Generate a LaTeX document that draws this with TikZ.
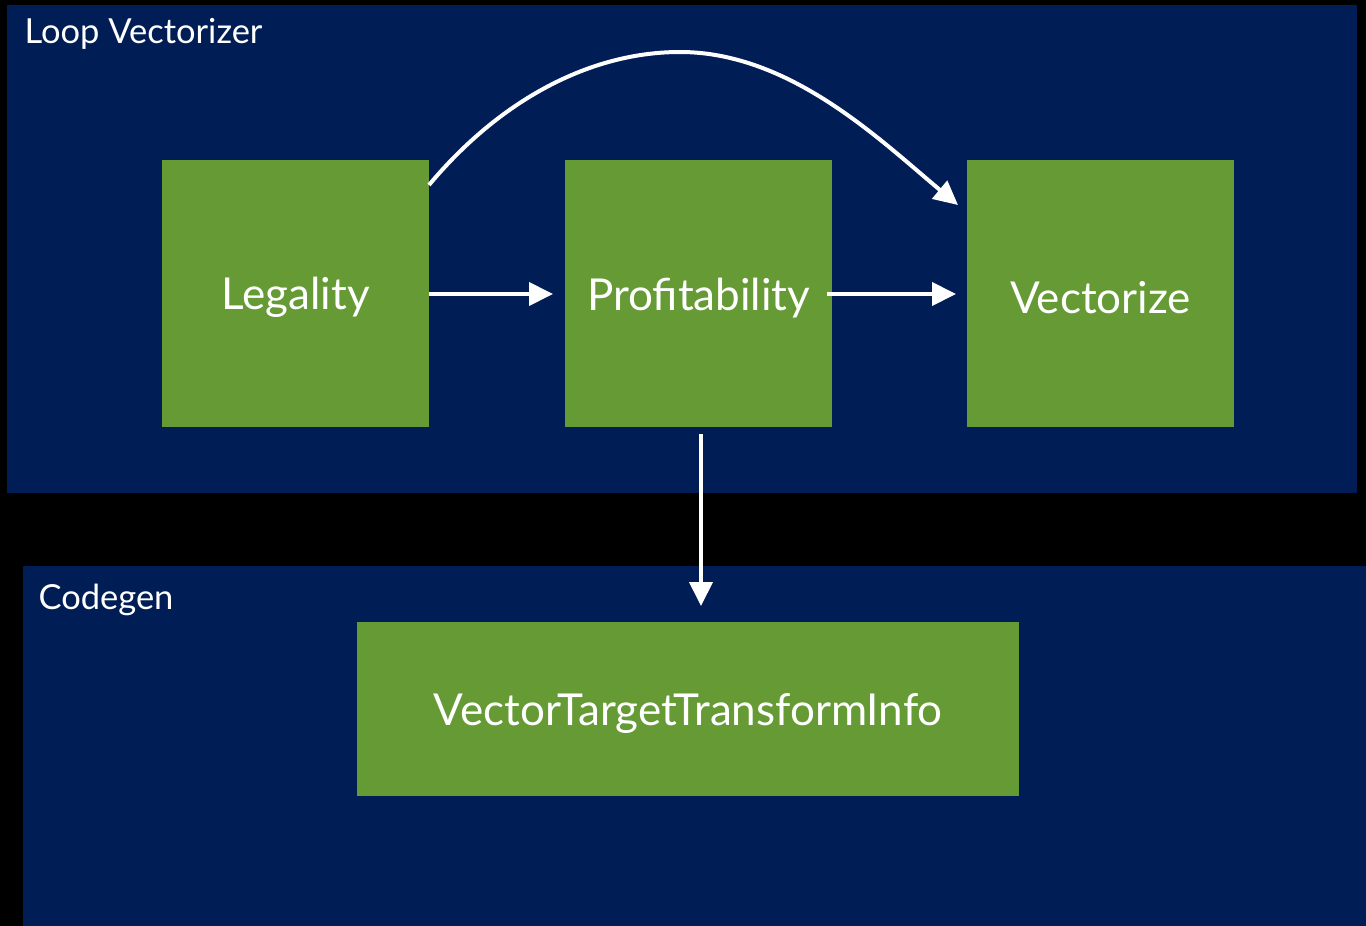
\documentclass[tikz,border=0pt]{standalone}
\usepackage{fontspec}
\setmainfont{Lato}
\usetikzlibrary{arrows.meta}
\definecolor{navy}{HTML}{001E55}
\definecolor{leaf}{HTML}{659A35}
\tikzset{
  panel/.style={fill=navy, draw=none},
  box/.style={fill=leaf, draw=none, anchor=north west, inner sep=0pt},
  boxtext/.style={text=white, font=\fontsize{44}{50}\selectfont},
  title/.style={text=white, font=\fontsize{34.5}{40}\selectfont, anchor=west},
  conn/.style={white, line width=4pt, -{Triangle[length=24pt,width=23pt]}},
}
\begin{document}
\begin{tikzpicture}[x=1pt,y=-1pt]
\fill[black] (0,0) rectangle (1366,926);
\useasboundingbox (0,0) rectangle (1366,926);
\fill[panel] (7,5) rectangle (1357,493);
\fill[panel] (23,566) rectangle (1366,926);
\node[title] (t1) at (21,34) {Loop Vectorizer};
\node[title] (t2) at (35,600) {Codegen};
\node[box, minimum width=267pt, minimum height=267pt] (leg) at (162,160) {};
\node[box, minimum width=267pt, minimum height=267pt] (pro) at (565,160) {};
\node[box, minimum width=267pt, minimum height=267pt] (vec) at (967,160) {};
\node[box, minimum width=662pt, minimum height=174pt] (vtti) at (357,622) {};
\foreach \n/\t in {leg/Legality, pro/Profitability, vec/Vectorize, vtti/VectorTargetTransformInfo}{
  \node[boxtext] (\n-l) at ([yshift=-4pt]\n.center) {\t};
}
\coordinate (a1s) at (429,294);
\coordinate (a1e) at (553,294);
\coordinate (a2s) at (827,294);
\coordinate (a2e) at (956,294);
\coordinate (a3s) at (701,434);
\coordinate (a3e) at (701,606);
\coordinate (cs) at (429,185);
\coordinate (ctop) at (680,52);
\coordinate (ce) at (958,205);
\draw[conn] (a1s) -- (a1e);
\draw[conn] (a2s) -- (a2e);
\draw[conn] (a3s) -- (a3e);
\draw[conn] (cs) .. controls (500,100) and (590,52) .. (ctop) .. controls (790,52) and (880,140) .. (ce);
\end{tikzpicture}
\end{document}
